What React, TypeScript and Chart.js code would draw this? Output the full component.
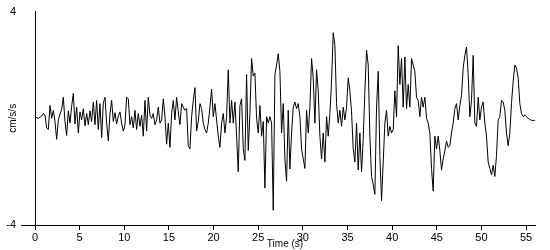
import { useEffect, useRef } from "react";
import { Chart, registerables } from "chart.js";

Chart.register(...registerables);

// Sampling interval of the record (seconds)
const TIME_STEP = 0.1866;
const X_MIN = 0;
const X_MAX = 56;
const X_TICK_STEP = 5;
const Y_MIN = -4;
const Y_MAX = 4;
const Y_TICKS = [-4, 4];
const X_TITLE = "Time (s)";
const Y_TITLE = "cm/s/s";

// Acceleration values (cm/s/s) in consecutive segments
const ACCEL_0_10 = [
  0.02, 0.02, 0, 0.04, 0.08, 0.18, 0.12, -0.36, -0.42, 0.48, 0, 0.3, -0.12, -0.79, -0.06, 0.16, 0.33,
  0.79, -0.12, -0.64, 0.28, -0.18, 0.45, 0.93, -0.21, 0.42, -0.55, 0.24, -0.06, 0.36, -0.28, 0.18,
  -0.24, 0.28, -0.12, 0.61, -0.24, 0.67, -0.42, 0.55, -0.73, 0.57, 0.79, -0.18, -0.85, 0.16, 0.67,
  -0.12, 0.21, -0.21, 0.08,
];
const ACCEL_10_19 = [
  0.24, -0.18, -0.48, -0.24, 0.79, 0.73, -0.24, 0.06, -0.36, 0.3, -0.42, 0.18, -0.3, 0.12, -0.67,
  0.67, -0.48, 0.79, 0.12, 0, 0.18, -0.24, -0.06, 0.42, -0.18, -0.06, 0.73, 0.06, -0.97, -0.18,
  -1.09, 0.18, 0.67, -0.06, 0.79, 0.24, -0.24, 0.55, 0.42, 0.3, 0.36, -1.03, -1.15, 0.06, 0.67,
  1.15, -0.48, -0.12, 0.55, 0.36, -0.18,
];
const ACCEL_19_29 = [
  -0.42, -0.55, -0.18, 0.42, 1.09, 0.06, 0.55, -0.06, -0.67, -1.09, -0.18, 0.18, -0.55, 0.06, 1.82,
  -0.18, 0.67, -0.18, 0.61, -0.67, -2.0, 0.48, 0.73, -1.15, -1.58, 1.64, -1.21, 0.18, 2.24, 1.58,
  1.7, 0, -0.55, 0.48, -0.67, -0.12, -2.61, 0.06, -0.18, 0.06, -0.18, -3.45, 1.64, 2.0, 2.42, 1.76,
  -0.55, 0.55, -1.52, -2.36, 0.3,
];
const ACCEL_29_38 = [
  -1.9, -0.55, 0.42, 0.61, 0.36, 0.55, 0.06, -1.15, -1.52, -1.88, 0.3, -0.55, 0.42, 2.24, 1.52,
  -0.18, 1.82, 1.03, -0.67, -1.52, -0.55, -1.64, 0.06, -0.67, 0.18, 1.39, 3.21, 2.73, 0.55, -0.18,
  0.3, -0.3, 0.42, -0.06, 0.42, 1.52, 1.03, 0.24, -1.15, -1.64, -0.18, -1.94, -0.55, -2.0, -0.79,
  1.03, 2.55, 2.0, -0.67, -2.18, -2.48,
];
const ACCEL_38_48 = [
  -2.85, 0.42, 1.76, -1.39, -3.09, -1.64, -0.18, 0.3, -0.67, -0.3, -0.55, -0.42, 1.03, 0.06, 2.73,
  1.27, 2.24, 0.42, 2.3, 0.36, 1.27, 0.42, 2.24, 2.0, 1.76, 0.79, 0.67, 0.06, 0.79, 0.42, 0.79, 0,
  -0.18, -0.55, -1.88, -2.73, -0.67, -1.15, -0.67, -1.21, -1.94, -1.52, -1.21, -0.85, -1.09, -1.03,
  -0.55, -0.18, 0.36, 0.55, -0.06,
];
const ACCEL_48_56 = [
  0.48, 0.85, 1.88, 2.36, 2.67, 1.64, 0.06, 0.67, 2.36, -0.18, -0.3, 0.79, -0.06, 0.42, 0.61, -0.18,
  -0.67, -1.64, -1.88, -2.12, -1.76, -2.18, -1.39, -0.06, 0.06, 0.67, 0.61, 0.3, -0.55, -1.03,
  -0.55, 0.55, 1.39, 2.0, 1.88, 1.52, 0.55, 0.18, 0.06, 0.12, 0.06, 0, -0.04, -0.08, -0.08, -0.08,
];

const ACCEL = [
  ...ACCEL_0_10,
  ...ACCEL_10_19,
  ...ACCEL_19_29,
  ...ACCEL_29_38,
  ...ACCEL_38_48,
  ...ACCEL_48_56,
];

const FONT_FAMILY = "'Liberation Sans', Arial, sans-serif";

export default function App() {
  const canvasRef = useRef<HTMLCanvasElement | null>(null);

  useEffect(() => {
    document.body.style.margin = "0";
    const canvas = canvasRef.current;
    if (!canvas) return;
    const points = ACCEL.map((v, i) => ({ x: i * TIME_STEP, y: v }));
    const chart = new Chart(canvas, {
      type: "line",
      data: {
        datasets: [
          {
            data: points,
            borderColor: "#000",
            borderWidth: 1,
            pointRadius: 0,
            tension: 0,
            fill: false,
          },
        ],
      },
      options: {
        responsive: false,
        animation: false,
        layout: { padding: { top: 5, right: 15, left: 0, bottom: 0 } },
        plugins: {
          legend: { display: false },
          tooltip: { enabled: false },
        },
        scales: {
          x: {
            type: "linear",
            min: X_MIN,
            max: X_MAX,
            ticks: {
              stepSize: X_TICK_STEP,
              includeBounds: false,
              maxRotation: 0,
              color: "#000",
              padding: 1,
              font: { family: FONT_FAMILY, size: 11 },
            },
            grid: {
              drawOnChartArea: false,
              drawTicks: true,
              tickLength: 5,
              color: "#000",
            },
            border: { color: "#000", width: 1 },
            title: {
              display: true,
              text: X_TITLE,
              color: "#000",
              font: { family: FONT_FAMILY, size: 10 },
              padding: { top: 0, bottom: 0 },
            },
            afterFit: (scale: any) => {
              scale.height = 25;
            },
          },
          y: {
            type: "linear",
            min: Y_MIN,
            max: Y_MAX,
            afterBuildTicks: (scale: any) => {
              scale.ticks = Y_TICKS.map((value) => ({ value }));
            },
            ticks: {
              color: "#000",
              padding: 5,
              font: { family: FONT_FAMILY, size: 11 },
            },
            grid: {
              drawOnChartArea: false,
              drawTicks: true,
              tickLength: 14,
              color: (ctx: any) => (ctx.tick && ctx.tick.value === Y_MIN ? "#000" : "rgba(0,0,0,0)"),
            },
            border: { color: "#000", width: 1 },
            title: {
              display: true,
              text: Y_TITLE,
              color: "#000",
              font: { family: FONT_FAMILY, size: 10 },
              padding: { top: 7, bottom: 0 },
            },
            afterFit: (scale: any) => {
              scale.width = 35;
            },
          },
        },
      },
    });
    return () => chart.destroy();
  }, []);

  return (
    <div style={{ position: "absolute", left: 0, top: 0, width: 550, height: 250 }}>
      <canvas ref={canvasRef} width={550} height={250} style={{ display: "block" }} />
    </div>
  );
}
